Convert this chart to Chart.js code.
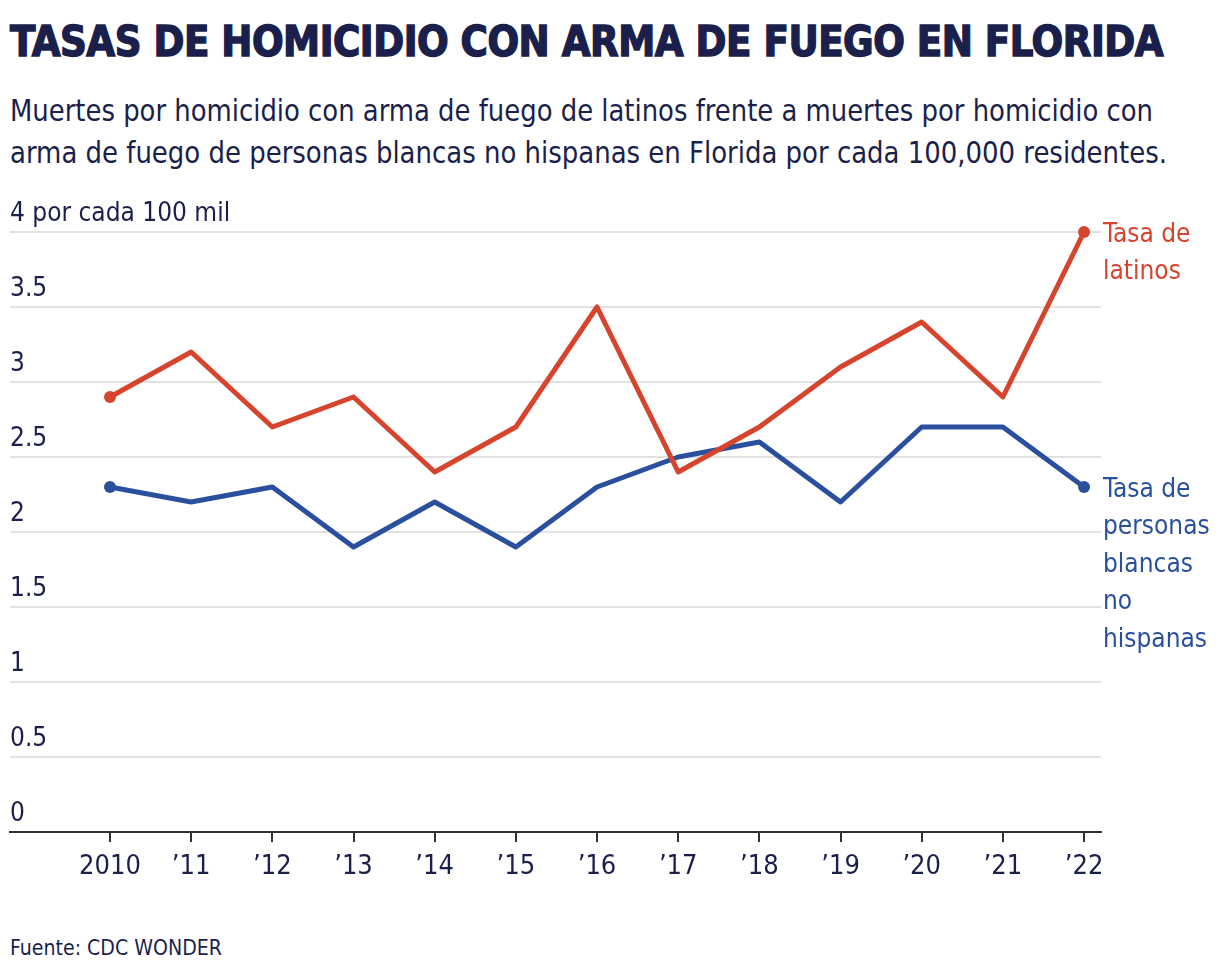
<!DOCTYPE html>
<html>
<head>
<meta charset="utf-8">
<script src="https://cdn.jsdelivr.net/npm/chart.js@4/dist/chart.umd.min.js"></script>
<style>
  html, body { margin: 0; padding: 0; background: #fff; }
  body { width: 1220px; height: 978px; position: relative; overflow: hidden; color: #1b1f4b; }
  .t { position: absolute; left: 10px; white-space: nowrap; transform-origin: 0 0; }
  #title { top: 14px; font-family: "DejaVu Sans Condensed", "DejaVu Sans", sans-serif; font-weight: bold; font-size: 42px; line-height: 56px; letter-spacing: -0.5px; -webkit-text-stroke: 1.4px #1b1f4b; }
  .sub { font-family: "Liberation Sans Narrow", "DejaVu Sans Condensed", sans-serif; font-size: 31px; line-height: 42px; }
  #sub1 { top: 89px; }
  #sub2 { top: 131px; }
  #source { top: 935px; font-family: "Liberation Sans Narrow", "DejaVu Sans Condensed", sans-serif; font-size: 21px; line-height: 26px; }
  #wrap { position: absolute; left: 0; top: 180px; width: 1220px; height: 740px; }
</style>
</head>
<body>
<div id="title" class="t" data-w="1153">TASAS DE HOMICIDIO CON ARMA DE FUEGO EN FLORIDA</div>
<div id="sub1" class="t sub" data-w="1143">Muertes por homicidio con arma de fuego de latinos frente a muertes por homicidio con</div>
<div id="sub2" class="t sub" data-w="1157">arma de fuego de personas blancas no hispanas en Florida por cada 100,000 residentes.</div>
<div id="source" class="t" data-w="212">Fuente: CDC WONDER</div>
<div id="wrap"><canvas id="c" width="1220" height="740"></canvas></div>
<script>
const years = [2010, 2011, 2012, 2013, 2014, 2015, 2016, 2017, 2018, 2019, 2020, 2021, 2022];
const latinoRates = [2.9, 3.2, 2.7, 2.9, 2.4, 2.7, 3.5, 2.4, 2.7, 3.1, 3.4, 2.9, 4.0];
const whiteRates = [2.3, 2.2, 2.3, 1.9, 2.2, 1.9, 2.3, 2.5, 2.6, 2.2, 2.7, 2.7, 2.3];
const yTicks = [0, 0.5, 1, 1.5, 2, 2.5, 3, 3.5, 4];
const latinoLabel = ["Tasa de", "latinos"];
const whiteLabel = ["Tasa de", "personas", "blancas", "no", "hispanas"];

// fit text widths
document.querySelectorAll('.t').forEach(el => {
  const target = +el.dataset.w;
  const w = el.getBoundingClientRect().width;
  if (w > 0) el.style.transform = 'scaleX(' + (target / w) + ')';
});

const RED = '#d7442e';
const BLUE = '#2a4f9d';
const NAVY = '#1b1f4b';
const LABEL_FONT = '"Liberation Sans Narrow", "DejaVu Sans Condensed", sans-serif';

function endPoints(n) {
  return ctx => (ctx.dataIndex === 0 || ctx.dataIndex === n - 1) ? 6 : 0;
}

const endLabels = {
  id: 'endLabels',
  afterDatasetsDraw(chart) {
    const { ctx, chartArea, scales } = chart;
    const items = [
      { lines: latinoLabel, v: latinoRates[latinoRates.length - 1], color: RED },
      { lines: whiteLabel, v: whiteRates[whiteRates.length - 1], color: BLUE }
    ];
    ctx.save();
    ctx.font = '26px ' + LABEL_FONT;
    ctx.textBaseline = 'middle';
    ctx.textAlign = 'left';
    items.forEach(it => {
      const y0 = scales.y.getPixelForValue(it.v) + 3;
      ctx.fillStyle = it.color;
      it.lines.forEach((l, i) => ctx.fillText(l, chartArea.right + 2, y0 + i * 37.5));
    });
    ctx.restore();
  }
};

new Chart(document.getElementById('c'), {
  type: 'line',
  data: {
    datasets: [
      {
        label: 'Latinos',
        data: years.map((x, i) => ({ x, y: latinoRates[i] })),
        borderColor: RED, backgroundColor: RED, borderWidth: 5, borderJoinStyle: 'round',
        pointRadius: endPoints(years.length), pointHoverRadius: 0,
        pointBackgroundColor: RED, pointBorderWidth: 0,
        tension: 0, clip: false
      },
      {
        label: 'Blancos no hispanos',
        data: years.map((x, i) => ({ x, y: whiteRates[i] })),
        borderColor: BLUE, backgroundColor: BLUE, borderWidth: 5, borderJoinStyle: 'round',
        pointRadius: endPoints(years.length), pointHoverRadius: 0,
        pointBackgroundColor: BLUE, pointBorderWidth: 0,
        tension: 0, clip: false
      }
    ]
  },
  options: {
    responsive: false,
    animation: false,
    events: [],
    layout: { padding: { top: 52, left: 10, right: 119, bottom: 28 } },
    plugins: { legend: { display: false }, tooltip: { enabled: false } },
    scales: {
      x: {
        type: 'linear',
        min: 2008.768,
        max: 2022.209,
        afterFit: s => { s.height = 60; },
        afterBuildTicks: s => { s.ticks = years.map(v => ({ value: v })); },
        ticks: {
          autoSkip: false,
          maxRotation: 0,
          padding: 9,
          color: NAVY,
          font: { family: LABEL_FONT, size: 27 },
          callback: v => v === years[0] ? String(v) : '\u2019' + String(v).slice(2)
        },
        grid: { drawOnChartArea: false, drawTicks: true, tickLength: 10, color: '#333', lineWidth: 2 },
        border: { display: true, color: '#333', width: 2 }
      },
      y: {
        min: 0,
        max: 4,
        afterFit: s => { s.width = 0; },
        afterBuildTicks: s => { s.ticks = yTicks.map(v => ({ value: v })); },
        ticks: {
          mirror: true,
          padding: 0,
          labelOffset: -18,
          color: NAVY,
          font: { family: LABEL_FONT, size: 26 },
          callback: v => v === 4 ? '4 por cada 100 mil' : String(v)
        },
        grid: { color: '#e2e2e2', lineWidth: 2, drawTicks: false },
        border: { display: false }
      }
    }
  },
  plugins: [endLabels]
});
</script>
</body>
</html>
